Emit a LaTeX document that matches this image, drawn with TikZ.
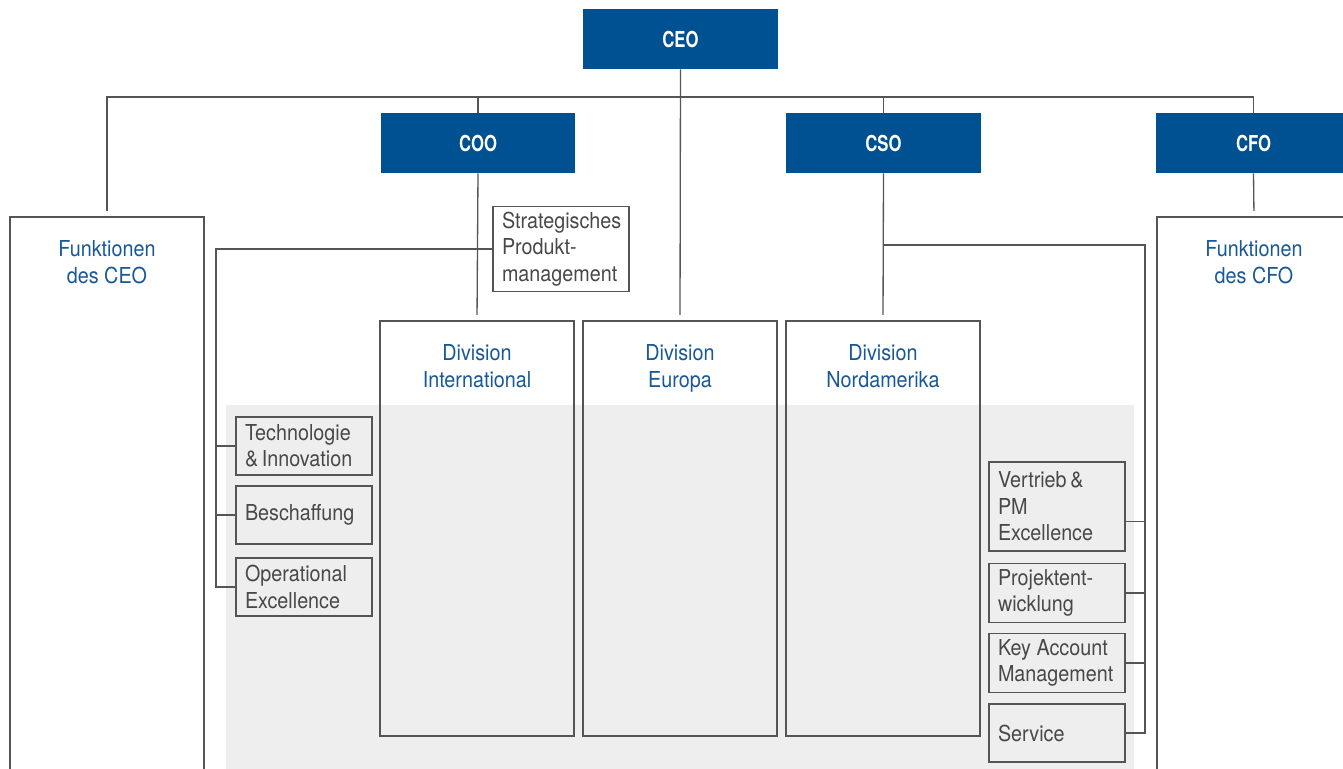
\documentclass[tikz,border=0pt]{standalone}
\usepackage{fontspec}
\setmainfont{TeX Gyre Heros}[FakeStretch=0.9]
\newfontfamily\chieffont{TeX Gyre Heros}[FakeStretch=0.76]
\definecolor{chiefblue}{RGB}{0,81,145}
\definecolor{headblue}{RGB}{24,88,152}
\definecolor{linegrey}{RGB}{85,85,85}
\definecolor{textgrey}{RGB}{72,72,72}
\definecolor{areagrey}{RGB}{238,238,238}
\newcommand\orgsize{\fontsize{12.5pt}{15pt}\selectfont}
\hyphenpenalty=10000
\hbadness=10000

\begin{document}
\begin{tikzpicture}
  [x=0.02cm,y=-0.02cm,
   every node/.style={font=\orgsize},
   chief/.style={rectangle,fill=chiefblue,text=white,font=\orgsize\chieffont\bfseries,minimum width=3.9cm,minimum height=1.2cm},
   unit/.style={rectangle,draw=linegrey,line width=0.75pt,minimum width=3.88cm},
   head/.style={anchor=north,inner sep=0pt,yshift=-0.48cm,align=center,text=headblue,font=\orgsize},
   dept/.style={rectangle,draw=linegrey,line width=0.75pt,text=textgrey,align=flush left,text width=2.36cm,inner xsep=0.18cm,minimum width=2.72cm,minimum height=1.16cm},
   link/.style={draw=linegrey,line width=0.75pt},
   gap/.style={shorten >=0.11cm}]
  \useasboundingbox (0,0) rectangle (1343,768);
  \clip (0,0) rectangle (1343,768);
  \fill[areagrey] (226,405) rectangle (1134,800);

  % board
  \node[chief] (ceo) at (680.5,39) {CEO};
  \node[chief] (coo) at (478,143) {COO};
  \node[chief] (cso) at (883.5,143) {CSO};
  \node[chief] (cfo) at (1253.5,143) {CFO};

  % functions and divisions
  \node[unit,minimum height=12cm,label={[head]north:{Funktionen\\des CEO}}] (fceo) at (107,517) {};
  \node[unit,minimum height=12cm,label={[head]north:{Funktionen\\des CFO}}] (fcfo) at (1254,517) {};
  \node[unit,minimum height=8.3cm,label={[head]north:{Division\\International}}] (intl) at (477,528.5) {};
  \node[unit,minimum height=8.3cm,label={[head]north:{Division\\Europa}}] (europa) at (680,528.5) {};
  \node[unit,minimum height=8.3cm,label={[head]north:{Division\\Nordamerika}}] (nord) at (883,528.5) {};

  % COO departments
  \node[dept,minimum height=1.7cm] (strat) at (561,249) {Strategisches\\Produkt-\\management};
  \node[dept] (tech) at (304,446) {Technologie\\\&\,Innovation};
  \node[dept] (besch) at (304,515) {Beschaffung};
  \node[dept] (opex) at (304,587) {Operational\\Excellence};

  % CSO departments
  \node[dept,minimum height=1.78cm] (vert) at (1057,506.5) {Vertrieb\,\&\\PM\\Excellence};
  \node[dept] (proj) at (1057,593) {Projektent-\\wicklung};
  \node[dept] (kam) at (1057,663) {Key Account\\Management};
  \node[dept] (serv) at (1057,733) {Service};

  \coordinate (bus) at (0,97);
  \coordinate (lbus) at (216,0);
  \coordinate (rbus) at (1145,0);
  \coordinate (csojoin) at (883.5,245);
  \coordinate (verttick) at ([yshift=-0.3cm]vert.east);

  \draw[link,shorten <=0.1cm] (fceo.north) -- (fceo.north |- bus) -- (cfo.north |- bus) -- (cfo.north);
  \path[link]
        (coo.north) edge (coo.north |- bus)
        (cso.north) edge (cso.north |- bus)
        (ceo.south) edge[gap] (europa.north)
        (coo.south) edge[gap] (intl.north)
        (cso.south) edge[gap] (nord.north)
        (cfo.south) edge[gap] (fcfo.north);

  \draw[link] (strat.west) -| (opex.west -| lbus) -- (opex.west);
  \path[link]
        (tech.west) edge (tech.west -| lbus)
        (besch.west) edge (besch.west -| lbus);

  \draw[link] (csojoin) -| (serv.east -| rbus) -- (serv.east);
  \path[link]
        (verttick) edge (verttick -| rbus)
        (proj.east) edge (proj.east -| rbus)
        (kam.east) edge (kam.east -| rbus);

\end{tikzpicture}
\end{document}
